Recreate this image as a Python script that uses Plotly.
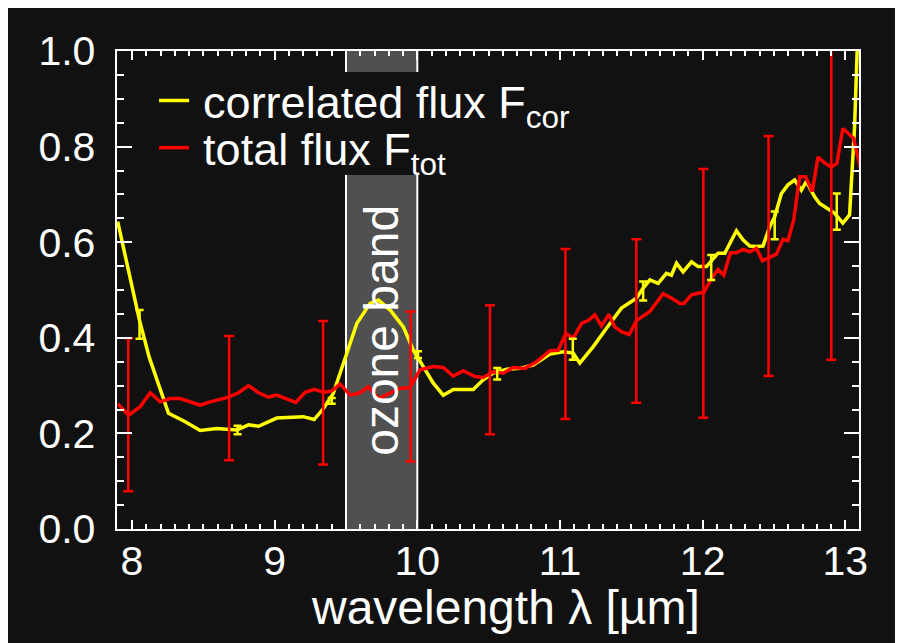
import plotly.graph_objects as go

# correlated flux (yellow)
cor_wl = [7.90, 8.05, 8.12, 8.256, 8.37, 8.478, 8.595, 8.735, 8.817, 8.887, 9.015, 9.132, 9.20, 9.277,
          9.342, 9.41, 9.459, 9.494, 9.576, 9.669, 9.727, 9.81, 9.902, 9.972, 10.054, 10.112, 10.182,
          10.252, 10.322, 10.392, 10.462, 10.532, 10.626, 10.719, 10.812, 10.93, 11.022, 11.093, 11.139,
          11.232, 11.326, 11.431, 11.536, 11.583, 11.63, 11.688, 11.746, 11.781, 11.817, 11.863, 11.922,
          11.968, 12.027, 12.108, 12.155, 12.237, 12.283, 12.33, 12.377, 12.423, 12.47, 12.505, 12.552,
          12.598, 12.645, 12.692, 12.727, 12.785, 12.82, 12.878, 12.924, 12.983, 13.03, 13.065, 13.09]
cor_flux = [0.643, 0.44, 0.36, 0.242, 0.225, 0.206, 0.210, 0.207, 0.218, 0.215, 0.232, 0.235, 0.235, 0.229,
            0.252, 0.283, 0.325, 0.360, 0.430, 0.472, 0.479, 0.458, 0.423, 0.374, 0.333, 0.305, 0.280,
            0.292, 0.292, 0.292, 0.312, 0.326, 0.334, 0.336, 0.343, 0.366, 0.371, 0.368, 0.347,
            0.381, 0.420, 0.462, 0.483, 0.504, 0.521, 0.514, 0.535, 0.531, 0.556, 0.538, 0.559,
            0.549, 0.549, 0.577, 0.577, 0.624, 0.605, 0.592, 0.591, 0.592, 0.632, 0.653, 0.702,
            0.720, 0.730, 0.709, 0.727, 0.695, 0.681, 0.671, 0.661, 0.640, 0.657, 0.842, 1.06]

# total flux (red)
tot_wl = [7.90, 7.976, 8.058, 8.128, 8.198, 8.268, 8.338, 8.478, 8.548, 8.677, 8.747, 8.817, 8.887, 8.957,
          9.015, 9.085, 9.148, 9.214, 9.277, 9.342, 9.40, 9.459, 9.529, 9.599, 9.657, 9.727, 9.809, 9.879,
          9.949, 10.019, 10.112, 10.182, 10.252, 10.322, 10.404, 10.462, 10.532, 10.602, 10.672, 10.754,
          10.836, 10.93, 10.987, 11.041, 11.093, 11.151, 11.198, 11.244, 11.291, 11.342, 11.384, 11.431,
          11.485, 11.536, 11.63, 11.723, 11.781, 11.84, 11.868, 11.922, 11.98, 12.007, 12.062, 12.108,
          12.148, 12.195, 12.237, 12.283, 12.33, 12.377, 12.419, 12.47, 12.517, 12.563, 12.598, 12.638,
          12.68, 12.722, 12.769, 12.808, 12.855, 12.902, 12.941, 12.983, 13.058, 13.11]
tot_flux = [0.262, 0.238, 0.256, 0.285, 0.266, 0.273, 0.273, 0.259, 0.266, 0.276, 0.285, 0.300, 0.285, 0.276,
            0.280, 0.272, 0.265, 0.286, 0.292, 0.286, 0.289, 0.303, 0.280, 0.285, 0.298, 0.273, 0.284, 0.294,
            0.296, 0.333, 0.340, 0.338, 0.320, 0.331, 0.319, 0.317, 0.329, 0.326, 0.338, 0.336,
            0.350, 0.373, 0.374, 0.409, 0.399, 0.430, 0.436, 0.448, 0.425, 0.449, 0.423, 0.413,
            0.407, 0.436, 0.455, 0.492, 0.483, 0.472, 0.472, 0.490, 0.494, 0.494, 0.524, 0.543,
            0.531, 0.578, 0.578, 0.585, 0.580, 0.587, 0.561, 0.568, 0.575, 0.606, 0.603, 0.646,
            0.737, 0.737, 0.706, 0.778, 0.766, 0.757, 0.765, 0.838, 0.817, 0.750]

# error bars
tot_err_wl = [7.974, 8.681, 9.340, 9.953, 10.509, 11.038, 11.535, 12.005, 12.462, 12.902]
tot_err_val = [0.239, 0.274, 0.285, 0.298, 0.333, 0.408, 0.435, 0.493, 0.571, 0.757]
tot_err = [0.160, 0.130, 0.150, 0.157, 0.135, 0.178, 0.171, 0.260, 0.251, 0.403]

cor_err_wl = [8.053, 8.740, 9.400, 10.005, 10.560, 11.090, 11.583, 12.060, 12.505, 12.940]
cor_err_val = [0.428, 0.207, 0.268, 0.365, 0.325, 0.376, 0.498, 0.547, 0.635, 0.664]
cor_err = [0.030, 0.009, 0.006, 0.007, 0.012, 0.022, 0.020, 0.026, 0.029, 0.038]

band = [9.5, 10.0]

YELLOW = "#ffff00"
RED = "#ff0000"
BG = "#111111"
FONT = "Liberation Sans, Arial, sans-serif"

# legend block (paper y of its top and bottom, hides the band there)
LEG_TOP = 0.956
LEG_BOTTOM = 0.7406

fig = go.Figure()
fig.add_trace(go.Scatter(x=cor_wl, y=cor_flux, mode="lines", line=dict(color=YELLOW, width=3.5),
                         name="\u2009correlated flux F<sub>cor</sub>", legend="legend"))
fig.add_trace(go.Scatter(x=tot_wl, y=tot_flux, mode="lines", line=dict(color=RED, width=3.5),
                         name="\u2009total flux F<sub>tot</sub>", legend="legend2"))
fig.add_trace(go.Scatter(x=cor_err_wl, y=cor_err_val, mode="markers", showlegend=False,
                         marker=dict(size=1, color="rgba(0,0,0,0)"),
                         error_y=dict(type="data", array=cor_err, color=YELLOW, thickness=2.5, width=4)))
fig.add_trace(go.Scatter(x=tot_err_wl, y=tot_err_val, mode="markers", showlegend=False,
                         marker=dict(size=1, color="rgba(0,0,0,0)"),
                         error_y=dict(type="data", array=tot_err, color=RED, thickness=2.5, width=5)))

# ozone band: grey fill with white edges, interrupted by the legend block
for (ya, yb) in [(0.0, LEG_BOTTOM), (LEG_TOP, 1.0)]:
    fig.add_shape(type="rect", xref="x", yref="paper", x0=band[0], x1=band[1], y0=ya, y1=yb,
                  fillcolor="#505050", line=dict(width=0), layer="below")
    for xe in band:
        fig.add_shape(type="line", xref="x", yref="paper", x0=xe, x1=xe, y0=ya, y1=yb,
                      line=dict(color="white", width=2), layer="below")

fig.add_annotation(x=(band[0] + band[1]) / 2, y=0.416, xref="x", yref="y", text="ozone band",
                   textangle=-90, showarrow=False, font=dict(family=FONT, size=48, color="white"))

fig.add_annotation(x=0.524, y=-0.165, xref="paper", yref="paper", text="wavelength λ [µm]",
                   showarrow=False, yanchor="middle", xanchor="center",
                   font=dict(family=FONT, size=48, color="white"))

axis_common = dict(showline=True, linecolor="white", linewidth=2, mirror="allticks", ticks="inside",
                   tickcolor="white", tickwidth=2, showgrid=False, zeroline=False,
                   tickfont=dict(family=FONT, size=41, color="white"))

fig.update_xaxes(range=[7.895, 13.096], tickmode="linear", tick0=8, dtick=1,
                 ticklen=9, ticklabelstandoff=-5,
                 minor=dict(ticks="inside", ticklen=5, dtick=0.1, tick0=8, tickwidth=2, tickcolor="white"),
                 **axis_common)
fig.update_yaxes(range=[0, 1.0], tickmode="linear", tick0=0, dtick=0.2, tickformat=".1f",
                 ticksuffix="\u00a0", ticklen=15,
                 minor=dict(ticks="inside", ticklen=7, dtick=0.05, tick0=0, tickwidth=2, tickcolor="white"),
                 **axis_common)

legend_common = dict(xanchor="left", bgcolor="rgba(0,0,0,0)", borderwidth=0, itemwidth=30,
                     font=dict(family=FONT, size=45, color="white"))

fig.update_layout(
    width=903, height=643,
    margin=dict(l=109, r=52, t=43, b=122),
    paper_bgcolor=BG, plot_bgcolor=BG,
    font=dict(family=FONT, color="white"),
    showlegend=True,
    legend=dict(x=0.05, y=0.971, yanchor="top", **legend_common),
    legend2=dict(x=0.05, y=0.722, yanchor="bottom", **legend_common),
)

fig.write_html("out.html")
